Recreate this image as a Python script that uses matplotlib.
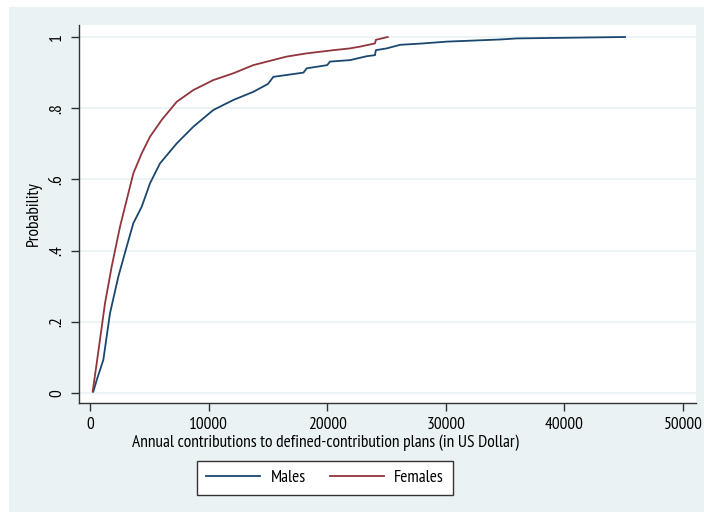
import matplotlib
matplotlib.use('Agg')
import matplotlib.pyplot as plt
from matplotlib import font_manager
from matplotlib.patches import Rectangle

# knot points
males_x = [281, 600, 1124, 1686, 2389, 3092, 3654, 4357, 5060, 5903, 7310, 8713,
           10400, 12080, 13770, 15000, 15460, 18000, 18270, 20000, 20240, 21920,
           23330, 24030, 24100, 25020, 26140, 28100, 30080, 34570, 35980, 45110]
males_p = [0.004, 0.04, 0.093, 0.224, 0.327, 0.411, 0.477, 0.523, 0.589, 0.645,
           0.701, 0.748, 0.795, 0.823, 0.846, 0.868, 0.888, 0.900, 0.912, 0.921,
           0.931, 0.935, 0.946, 0.949, 0.963, 0.968, 0.978, 0.982, 0.987, 0.993,
           0.996, 1.0]

females_x = [225, 563, 1265, 1827, 2530, 3092, 3654, 4357, 5060, 6045, 7310, 8713,
             10400, 12080, 13770, 16580, 18270, 20520, 21920, 22770, 24030, 24100,
             25100]
females_p = [0.004, 0.083, 0.252, 0.355, 0.467, 0.542, 0.617, 0.673, 0.720, 0.767,
             0.818, 0.851, 0.879, 0.898, 0.921, 0.945, 0.954, 0.963, 0.968, 0.973,
             0.982, 0.992, 1.0]

y_ticks = [0, 0.2, 0.4, 0.6, 0.8, 1]
y_labels = ['0', '.2', '.4', '.6', '.8', '1']
x_ticks = [0, 10000, 20000, 30000, 40000, 50000]

# narrow Helvetica-like face if one is there
have = {f.name for f in font_manager.fontManager.ttflist}
narrow = [n for n in ['PT Sans Narrow', 'Archivo Narrow', 'Roboto Condensed'] if n in have]
plt.rcParams['font.family'] = narrow[:1] + ['Liberation Sans', 'DejaVu Sans']
FS = 12.5

W, H = 704, 512
fig = plt.figure(figsize=(W / 100, H / 100), dpi=100, facecolor='white')
# light graph region background (screenshot has thin white strips top/left)
fig.patches.append(Rectangle((9 / W, 0), 1, 1 - 7 / H, transform=fig.transFigure,
                             facecolor='#EAF2F3', edgecolor='none', zorder=-10))

ax = fig.add_axes([79 / W, 1 - 403 / H, (696 - 79) / W, (403 - 25) / H])
ax.set_facecolor('white')

ax.plot(males_x, males_p, color='#1a476f', lw=1.3, label='Males')
ax.plot(females_x, females_p, color='#90353b', lw=1.3, label='Females')

ax.set_xlim(-927, 51096)
ax.set_ylim(-0.028, 1.0337)

ax.set_yticks(y_ticks)
ax.set_yticklabels(y_labels, rotation=90, va='center', fontsize=FS)
ax.set_xticks(x_ticks)
ax.set_xticklabels([str(v) for v in x_ticks], fontsize=FS)
ax.tick_params(direction='out', length=6, width=1, color='#333333', pad=4)

for v in y_ticks:
    ax.axhline(v, color='#EAF2F3', lw=1.2, zorder=0)

for s in ['top', 'right']:
    ax.spines[s].set_visible(False)
for s in ['left', 'bottom']:
    ax.spines[s].set_color('#333333')
    ax.spines[s].set_linewidth(1)

ax.set_ylabel('Probability', fontsize=FS, labelpad=5)
fig.text(325 / W, 1 - 443 / H,
         'Annual contributions to defined-contribution plans (in US Dollar)',
         ha='center', va='center', fontsize=FS)

leg = fig.legend(loc='center', bbox_to_anchor=(325 / W, 1 - 478 / H), ncol=2,
                 fontsize=FS, frameon=True, fancybox=False, handlelength=3.1,
                 handletextpad=0.6, columnspacing=1.4, borderpad=0.5)
leg.get_frame().set_edgecolor('#333333')
leg.get_frame().set_linewidth(1)
leg.get_frame().set_facecolor('white')
leg.get_frame().set_alpha(1)

fig.savefig('out.png', dpi=100, facecolor=fig.get_facecolor())
